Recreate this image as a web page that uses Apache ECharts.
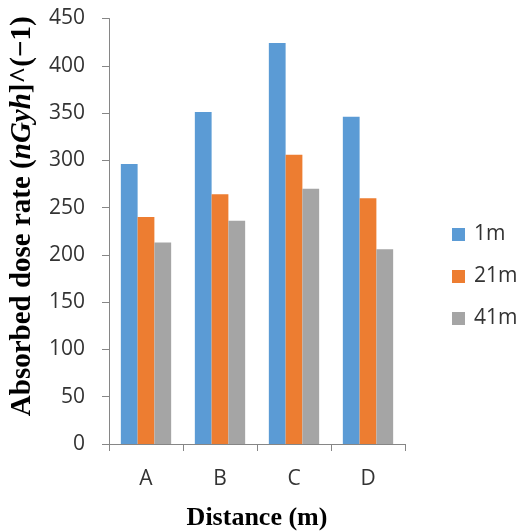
<!DOCTYPE html>
<html><head><meta charset="utf-8">
<script src="https://cdn.jsdelivr.net/npm/echarts@6/dist/echarts.min.js"></script>
<style>html,body{margin:0;padding:0;background:#fff}#c{width:519px;height:531px}</style>
</head><body><div id="c"></div>
<script>
const categories = ['A', 'B', 'C', 'D'];
const seriesNames = ['1m', '21m', '41m'];
const s1m = [296, 351, 424, 346];
const s21m = [240, 264, 306, 260];
const s41m = [213, 236, 270, 206];
const yTicks = {min: 0, max: 450, interval: 50};
const colors = ['#5B9BD5', '#ED7D31', '#A5A5A5'];

const chart = echarts.init(document.getElementById('c'));
const axisCol = '#868686';
const labelFont = {fontFamily: 'Open Sans', fontSize: 21, color: '#333'};
const titleFont = {fontFamily: 'Liberation Serif', fontWeight: 'bold', color: '#000'};
chart.setOption({
  animation: false,
  grid: {left: 109, right: 114, top: 18.5, bottom: 87, outerBoundsMode: 'none', containLabel: false},
  legend: {
    orient: 'vertical', left: 447, top: 219, itemWidth: 13, itemHeight: 13, itemGap: 21,
    icon: 'rect', textStyle: {...labelFont, lineHeight: 21, padding: [0, 0, 0, 4]},
    data: seriesNames
  },
  xAxis: {
    type: 'category', data: categories,
    axisLine: {lineStyle: {color: axisCol}},
    axisTick: {show: true, length: 7, lineStyle: {color: axisCol}},
    axisLabel: {...labelFont, margin: 25},
    name: 'Distance (m)', nameLocation: 'middle', nameGap: 61,
    nameTextStyle: {...titleFont, fontSize: 26}
  },
  yAxis: {
    type: 'value', min: yTicks.min, max: yTicks.max, interval: yTicks.interval,
    splitLine: {show: false},
    axisLine: {show: true, lineStyle: {color: axisCol}},
    axisTick: {show: true, length: 7, lineStyle: {color: axisCol}},
    axisLabel: {...labelFont, margin: 24},
    name: '{b|Absorbed dose rate (}{i|nGyh}{b|]^(−1)}', nameLocation: 'middle', nameGap: 72,
    nameTextStyle: {
      ...titleFont, fontSize: 29, padding: [0, 0, 0, 30],
      rich: {
        b: {...titleFont, fontSize: 29},
        i: {...titleFont, fontStyle: 'italic', fontSize: 29}
      }
    }
  },
  series: [s1m, s21m, s41m].map((d, i) => ({
    name: seriesNames[i], type: 'bar', data: d, barGap: '0%', barCategoryGap: '32%',
    itemStyle: {color: colors[i]}
  }))
});
</script></body></html>
